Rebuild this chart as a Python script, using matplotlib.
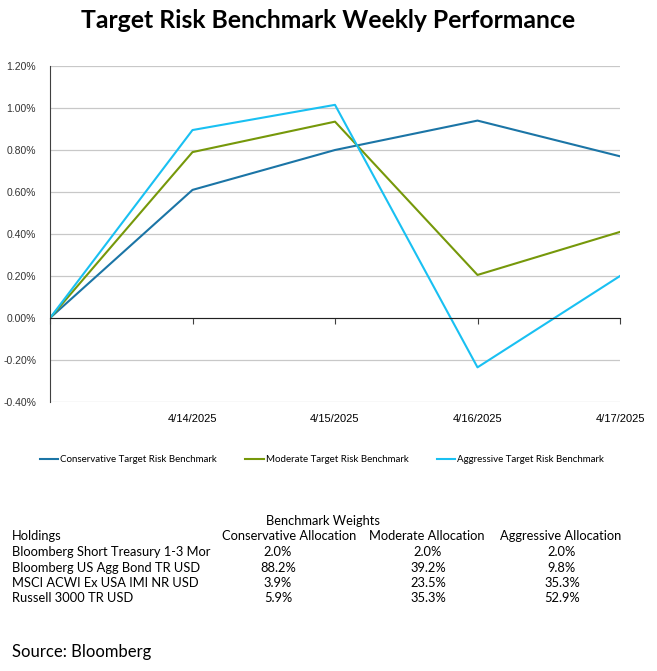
import matplotlib
matplotlib.use('Agg')
import matplotlib.pyplot as plt
from matplotlib.ticker import FuncFormatter

# data (cumulative % return)
dates = ["", "4/14/2025", "4/15/2025", "4/16/2025", "4/17/2025"]
conservative = [0.0, 0.61, 0.80, 0.94, 0.77]
moderate = [0.0, 0.79, 0.935, 0.205, 0.41]
aggressive = [0.0, 0.895, 1.015, -0.235, 0.20]

series_names = ["Conservative Target Risk Benchmark",
                "Moderate Target Risk Benchmark",
                "Aggressive Target Risk Benchmark"]
colors = ["#1b75a6", "#76980a", "#19c0f2"]

holdings = ["Bloomberg Short Treasury 1-3 Mor",
            "Bloomberg US Agg Bond TR USD",
            "MSCI ACWI Ex USA IMI NR USD",
            "Russell 3000 TR USD"]
alloc_cols = ["Conservative Allocation", "Moderate Allocation", "Aggressive Allocation"]
w_cons = ["2.0%", "88.2%", "3.9%", "5.9%"]
w_mod = ["2.0%", "39.2%", "23.5%", "35.3%"]
w_aggr = ["2.0%", "9.8%", "35.3%", "52.9%"]

W, H = 657, 671
fig = plt.figure(figsize=(W/100, H/100), dpi=100)
ax = fig.add_axes([50/W, 1-402/H, 570/W, 336/H])

x = list(range(len(dates)))
for vals, name, c in zip([conservative, moderate, aggressive], series_names, colors):
    ax.plot(x, vals, color=c, lw=1.5, label=name)

ax.set_xlim(0, 4)
ax.set_ylim(-0.4, 1.2)
ax.set_yticks([-0.4 + 0.2*i for i in range(9)])
ax.yaxis.set_major_formatter(FuncFormatter(lambda v, p: f"{v:.2f}%"))
ax.grid(axis='y', color='#c8c8c8', lw=0.9)
ax.set_axisbelow(True)
ax.tick_params(axis='y', length=0, pad=10, labelsize=7.5, labelcolor='#333333')
for lab in ax.get_yticklabels():
    lab.set_family('Liberation Sans')

for s in ['top', 'right']:
    ax.spines[s].set_visible(False)
ax.spines['left'].set_color('#404040')
ax.spines['bottom'].set_position(('data', 0))
ax.spines['bottom'].set_color('#202020')
ax.set_xticks(x)
ax.tick_params(axis='x', length=4, direction='out', labelbottom=False, color='#404040')

sec = ax.secondary_xaxis('bottom')
sec.set_xticks(x)
sec.set_xticklabels(dates, family='Liberation Sans', fontsize=8)
sec.tick_params(length=0, pad=9)
sec.spines['bottom'].set_visible(False)

fig.text(0.5, 1-21/H, "Target Risk Benchmark Weekly Performance", ha='center', va='center',
         fontsize=17.8, fontweight='bold', family='Lato')

ax.legend(loc='center', bbox_to_anchor=(322/W, 1-460/H), bbox_transform=fig.transFigure,
          ncol=3, frameon=False, prop={'family': 'Lato', 'size': 7.0},
          handlelength=1.9, handletextpad=0.2, columnspacing=2.9)

# weights table
tf = dict(family='Lato', fontsize=9.3, va='center')
fig.text(323/W, 1-521/H, "Benchmark Weights", ha='center', **tf)
fig.text(12/W, 1-536/H, "Holdings", ha='left', **tf)
head_x = [289, 427, 561]
val_x = [278, 428, 562]
for cx, name in zip(head_x, alloc_cols):
    fig.text(cx/W, 1-536/H, name, ha='center', **tf)
for i, h in enumerate(holdings):
    y = 1-(552+15.5*i)/H
    fig.text(12/W, y, h, ha='left', **tf)
    for cx, col in zip(val_x, [w_cons, w_mod, w_aggr]):
        fig.text(cx/W, y, col[i], ha='center', **tf)

fig.text(12/W, 1-652/H, "Source: Bloomberg", ha='left', va='center', family='Lato', fontsize=12)

fig.savefig("out.png", dpi=100, facecolor='white')
